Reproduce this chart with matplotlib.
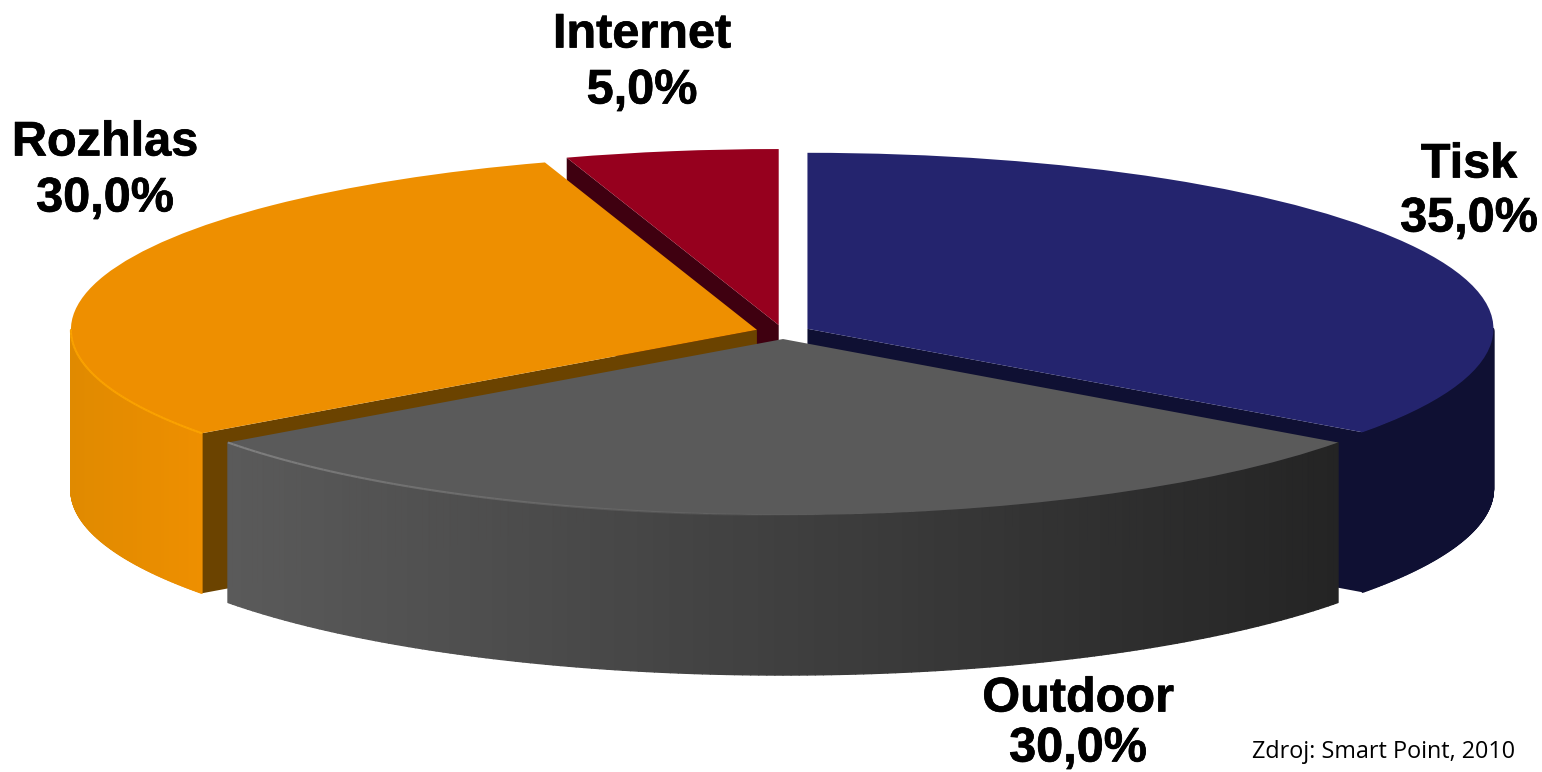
import numpy as np
import matplotlib
matplotlib.use('Agg')
import matplotlib.pyplot as plt
import matplotlib.patheffects as pe
from matplotlib.collections import PolyCollection, LineCollection
from matplotlib.colors import LinearSegmentedColormap, to_rgb

categories = ['Tisk', 'Outdoor', 'Rozhlas', 'Internet']
shares = [35.0, 30.0, 30.0, 5.0]

top_colors = ['#24246e', '#5a5a5a', '#ee8f00', '#96001e']
cut_colors = ['#0f1033', None, '#6b4300', '#3f0010']
wall_left = ['#0f1033', '#5a5a5a', '#e08a00', '#3f0010']
wall_right = ['#0f1033', '#242424', '#ee8f00', '#3f0010']
rim_colors = [None, '#858585', '#ffa800', None]
rim_ends = [None, (-144, -85), (-180, -144), None]
# which end of the wedge has its cut face towards the viewer
cut_end = {'Tisk': 'theta1', 'Rozhlas': 'theta2', 'Internet': 'theta2'}
# draw order back to front
layers = {'Internet': 1, 'Tisk': 2, 'Rozhlas': 3, 'Outdoor': 4}

W, H = 1542, 772
CX, CY = 783, 332     # pie centre in pixels
RX, RY = 686, 176     # top face radii in pixels
DEPTH = 160 / RY      # wall height, in y units

fig = plt.figure(figsize=(W / 100, H / 100), dpi=100)
ax = fig.add_axes([0, 0, 1, 1])

wedges, _ = ax.pie(shares, explode=[0.04] * 4, startangle=90, counterclock=False,
                   colors=top_colors, radius=1)
ax.set_aspect('auto')
ax.set_xlim(-CX / RX, (W - CX) / RX)
ax.set_ylim((CY - H) / RY, CY / RY)
ax.axis('off')


def arc(w, a, b, n=2):
    t = np.radians(np.linspace(a, b, n))
    cx, cy = w.center
    return cx + np.cos(t), cy + np.sin(t)


for i, w in enumerate(wedges):
    name = categories[i]
    z = layers[name] * 10
    w.set_zorder(z + 2)
    w.set_linewidth(0)
    cx, cy = w.center

    # cut face, seen from the front
    if name in cut_end:
        ang = getattr(w, cut_end[name])
        x1, y1 = arc(w, ang, ang)
        ax.fill([cx, x1[0], x1[0], cx], [cy, y1[0], y1[0] - DEPTH, cy - DEPTH],
                color=cut_colors[i], lw=0, zorder=z)

    # outer wall: only the front half of the rim shows
    a, b = max(w.theta1, -180), min(w.theta2, 0)
    if b > a:
        xs, ys = arc(w, a, b, 161)
        polys = [[(xs[j], ys[j]), (xs[j + 1], ys[j + 1]),
                  (xs[j + 1], ys[j + 1] - DEPTH), (xs[j], ys[j] - DEPTH)]
                 for j in range(160)]
        cmap = LinearSegmentedColormap.from_list('wall', [wall_left[i], wall_right[i]])
        u = (xs[:-1] - xs.min()) / (xs.max() - xs.min())
        shades = cmap(u)
        ax.add_collection(PolyCollection(polys, facecolors=shades, edgecolors=shades,
                                         linewidths=1.0, zorder=z + 1))

    # light rim line, fading away towards the right
    if rim_colors[i]:
        rx, ry = arc(w, rim_ends[i][0], rim_ends[i][1], 80)
        segs = np.column_stack([rx, ry]).reshape(-1, 1, 2)
        segs = np.concatenate([segs[:-1], segs[1:]], axis=1)
        fade = np.linspace(0.9, 0.0, 79) if name == 'Outdoor' else np.full(79, 0.8)
        rgba = [(*to_rgb(rim_colors[i]), f) for f in fade]
        ax.add_collection(LineCollection(segs, colors=rgba, linewidths=1.5, zorder=z + 3))

label_font = dict(family='Liberation Sans', fontweight='bold', fontsize=35, color='black',
                  ha='center', va='center',
                  path_effects=[pe.withStroke(linewidth=0.5, foreground='black')])
label_pos = {'Tisk': (1469, 165, 219), 'Outdoor': (1078, 699, 749),
             'Rozhlas': (105, 143, 199), 'Internet': (642, 35, 91)}
for name, val in zip(categories, shares):
    px, y1, y2 = label_pos[name]
    fig.text(px / W, 1 - y1 / H, name, **label_font)
    fig.text(px / W, 1 - y2 / H, f'{val:.1f}%'.replace('.', ','), **label_font)

fig.text(1252 / W, 1 - 752 / H, 'Zdroj: Smart Point, 2010', family='Open Sans',
         fontsize=16.8, color='black', ha='left', va='center')

fig.savefig('out.png', dpi=100, facecolor='white')
